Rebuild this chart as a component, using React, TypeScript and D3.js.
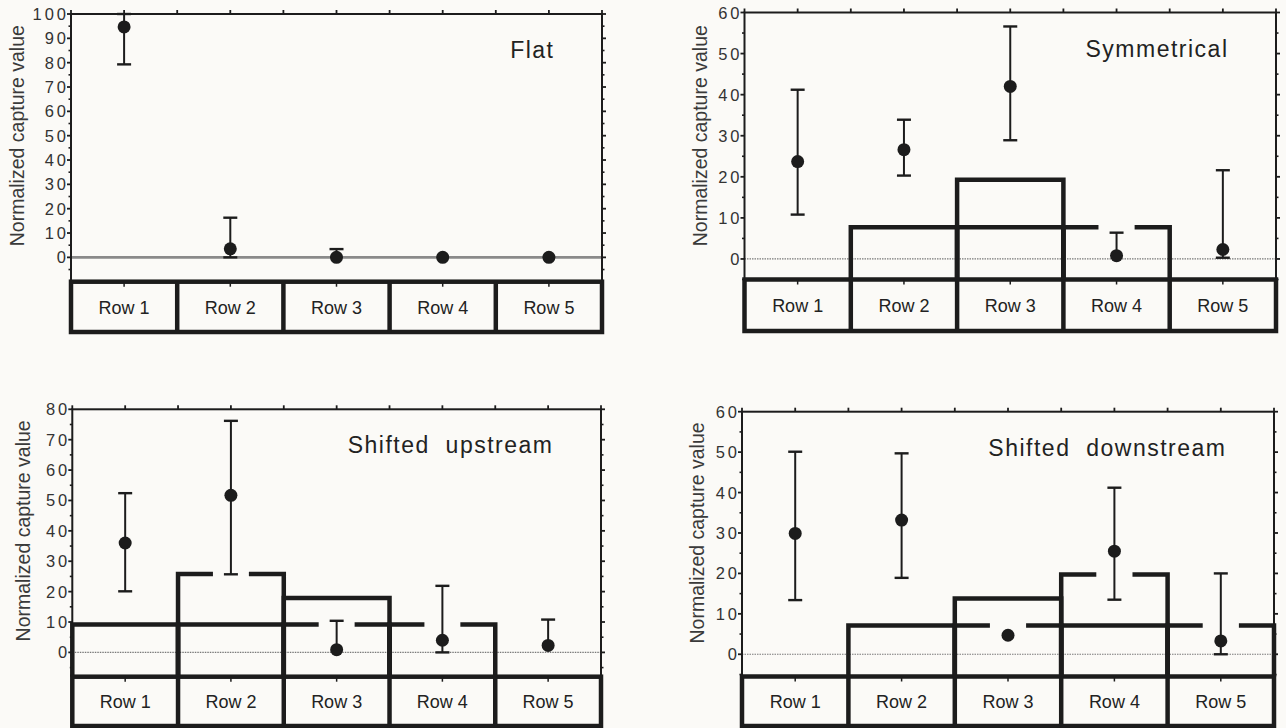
import React from "react";
import * as d3 from "d3";

const width = 1286;
const height = 728;

const rows = ["Row 1", "Row 2", "Row 3", "Row 4", "Row 5"];
const titles = ["Flat", "Symmetrical", "Shifted  upstream", "Shifted  downstream"];
const yLabel = "Normalized capture value";

// y axis ranges per panel
const yMins = [-10, -5, -8, -5.5];
const yMaxs = [100, 60, 80, 60];

// observed means and error bar ends (null = no bar end drawn)
const flatMeans = [94.7, 3.5, 0, 0, 0];
const flatUpper = [100, 16.3, 3.4, null, null];
const flatLower = [79.3, 0, null, null, null];

const symMeans = [23.7, 26.6, 42, 0.8, 2.3];
const symUpper = [41.2, 33.9, 56.6, 6.4, 21.6];
const symLower = [10.8, 20.3, 28.9, null, 0.3];

const upMeans = [36.0, 51.7, 0.9, 4.0, 2.3];
const upUpper = [52.4, 76.2, 10.4, 21.9, 10.8];
const upLower = [20.1, 25.7, null, 0, null];

const downMeans = [29.9, 33.2, 4.7, 25.5, 3.3];
const downUpper = [50.1, 49.7, null, 41.2, 20.0];
const downLower = [13.4, 18.9, null, 13.5, 0];

// predicted profiles (thick step outlines), one value per row
const symProfiles = [
  { values: [null, 7.7, 7.7, 7.7, null], gaps: ["Row 4"] },
  { values: [null, null, 19.3, null, null], gaps: [] }
];
const upProfiles = [
  { values: [9.2, 9.2, 9.2, 9.2, null], gaps: ["Row 3", "Row 4"] },
  { values: [null, 25.8, null, null, null], gaps: ["Row 2"] },
  { values: [null, null, 17.9, null, null], gaps: [] }
];
const downProfiles = [
  { values: [null, 7.1, 7.1, 7.1, 7.1], gaps: ["Row 3", "Row 5"] },
  { values: [null, null, 13.8, null, null], gaps: [] },
  { values: [null, null, null, 19.7, null], gaps: ["Row 4"] }
];

const panelData = [
  { means: flatMeans, upper: flatUpper, lower: flatLower, profiles: [] },
  { means: symMeans, upper: symUpper, lower: symLower, profiles: symProfiles },
  { means: upMeans, upper: upUpper, lower: upLower, profiles: upProfiles },
  { means: downMeans, upper: downUpper, lower: downLower, profiles: downProfiles }
];

// page layout of each panel
const layouts = [
  { left: 71, right: 602, top: 14, boxTop: 281.7, boxBottom: 332, labelX: 17, zeroBold: true },
  { left: 744.5, right: 1276, top: 12.5, boxTop: 279.5, boxBottom: 331, labelX: 700, zeroBold: false },
  { left: 72.3, right: 601, top: 409.3, boxTop: 676.7, boxBottom: 726, labelX: 23, zeroBold: false },
  { left: 742, right: 1274, top: 411.7, boxTop: 676.5, boxBottom: 726, labelX: 697, zeroBold: false }
];

const font = "'Liberation Sans', Arial, Helvetica, sans-serif";
const ink = "#1c1c1c";

function Panel({ index }: { index: number }) {
  const lay = layouts[index];
  const data = panelData[index];
  const yMin = yMins[index];
  const yMax = yMaxs[index];

  const x = d3.scaleBand().domain(rows).range([lay.left, lay.right]).padding(0);
  const y = d3.scaleLinear().domain([yMin, yMax]).range([lay.boxTop, lay.top]);
  const bw = x.bandwidth();
  const cx = (r: string) => (x(r) as number) + bw / 2;

  const majors = d3.range(0, yMax + 0.1, 10);
  const minors = d3.range(Math.ceil(yMin / 5) * 5, yMax + 0.1, 5).filter(v => v % 10 !== 0);
  const topTicks = d3.range(0, 11).map(i => lay.left + (i * bw) / 2);
  const gap = bw * 0.34;
  const ls = 3;

  return (
    <g>
      {/* y axis title */}
      <text
        transform={`translate(${lay.labelX}, ${(lay.top + y(0)) / 2}) rotate(-90)`}
        textAnchor="middle"
        dominantBaseline="central"
        fontSize={19.5}
        fontFamily={font}
        fill="#3a3a3a"
      >
        {yLabel}
      </text>

      {/* zero line */}
      <line
        x1={lay.left}
        x2={lay.right}
        y1={y(0)}
        y2={y(0)}
        stroke={lay.zeroBold ? "#8a8a8a" : "#7a7a7a"}
        strokeWidth={lay.zeroBold ? 2.6 : 1.2}
        strokeDasharray={lay.zeroBold ? null : "1.5 1"}
      />

      {/* frame */}
      <rect
        x={lay.left}
        y={lay.top}
        width={lay.right - lay.left}
        height={lay.boxTop - lay.top}
        fill="none"
        stroke={ink}
        strokeWidth={2}
      />

      {/* ticks left and right */}
      {majors.map(v => (
        <g key={"M" + v}>
          <line x1={lay.left - 4} x2={lay.left} y1={y(v)} y2={y(v)} stroke={ink} strokeWidth={1.8} />
          <line x1={lay.right} x2={lay.right + 4} y1={y(v)} y2={y(v)} stroke={ink} strokeWidth={1.8} />
          <text
            x={lay.left - 5 + ls}
            y={y(v)}
            textAnchor="end"
            dominantBaseline="central"
            fontSize={16.5}
            letterSpacing={ls}
            fontFamily={font}
            fill="#333"
          >
            {v}
          </text>
        </g>
      ))}
      {minors.map(v => (
        <g key={"m" + v}>
          <line x1={lay.left - 2.5} x2={lay.left} y1={y(v)} y2={y(v)} stroke={ink} strokeWidth={1.6} />
          <line x1={lay.right} x2={lay.right + 2.5} y1={y(v)} y2={y(v)} stroke={ink} strokeWidth={1.6} />
        </g>
      ))}
      {topTicks.map((t, i) => (
        <line key={"t" + i} x1={t} x2={t} y1={lay.top} y2={lay.top - 4} stroke={ink} strokeWidth={1.8} />
      ))}

      {/* predicted profiles */}
      {data.profiles.map((p, pi) => (
        <g key={"p" + pi}>
          {rows.map((r, ri) => {
            const v = p.values[ri];
            if (v === null) return null;
            const x0 = x(r) as number;
            const x1 = x0 + bw;
            const yv = y(v);
            const c = cx(r);
            const d = p.gaps.includes(r)
              ? `M${x0},${lay.boxTop}V${yv}H${c - gap / 2}M${c + gap / 2},${yv}H${x1}V${lay.boxTop}`
              : `M${x0},${lay.boxTop}V${yv}H${x1}V${lay.boxTop}`;
            return <path key={r} d={d} fill="none" stroke={ink} strokeWidth={4.5} strokeLinejoin="miter" />;
          })}
        </g>
      ))}

      {/* error bars and means */}
      {rows.map((r, ri) => {
        const m = data.means[ri];
        const hi = data.upper[ri];
        const lo = data.lower[ri];
        const c = cx(r);
        return (
          <g key={"e" + r}>
            {(hi !== null || lo !== null) && (
              <line
                x1={c}
                x2={c}
                y1={y(hi === null ? m : hi)}
                y2={y(lo === null ? m : lo)}
                stroke={ink}
                strokeWidth={2}
              />
            )}
            {hi !== null && <line x1={c - 7} x2={c + 7} y1={y(hi)} y2={y(hi)} stroke={ink} strokeWidth={2.4} />}
            {lo !== null && <line x1={c - 7} x2={c + 7} y1={y(lo)} y2={y(lo)} stroke={ink} strokeWidth={2.4} />}
            <circle cx={c} cy={y(m)} r={6.5} fill={ink} />
          </g>
        );
      })}

      {/* title */}
      <text
        x={lay.right - 49 + 1.5}
        y={lay.top + 44}
        textAnchor="end"
        fontSize={23}
        letterSpacing={1.5}
        fontFamily={font}
        fill="#222"
        style={{ whiteSpace: "pre" }}
      >
        {titles[index]}
      </text>

      {/* row label box */}
      <rect
        x={lay.left}
        y={lay.boxTop}
        width={lay.right - lay.left}
        height={lay.boxBottom - lay.boxTop}
        fill="none"
        stroke={ink}
        strokeWidth={4.5}
      />
      {rows.slice(1).map(r => (
        <line
          key={"d" + r}
          x1={x(r) as number}
          x2={x(r) as number}
          y1={lay.boxTop}
          y2={lay.boxBottom}
          stroke={ink}
          strokeWidth={4.5}
        />
      ))}
      {rows.map(r => (
        <g key={"l" + r}>
          <line x1={cx(r)} x2={cx(r)} y1={lay.boxTop} y2={lay.boxTop + 5} stroke={ink} strokeWidth={1.5} />
          <text
            x={cx(r)}
            y={(lay.boxTop + lay.boxBottom) / 2 + 1}
            textAnchor="middle"
            dominantBaseline="central"
            fontSize={18}
            fontFamily={font}
            fill="#222"
          >
            {r}
          </text>
        </g>
      ))}
    </g>
  );
}

export default function App() {
  return (
    <svg
      width={width}
      height={height}
      style={{ position: "absolute", left: 0, top: 0, background: "#fbfaf7" }}
    >
      {[0, 1, 2, 3].map(i => (
        <Panel key={i} index={i} />
      ))}
    </svg>
  );
}
